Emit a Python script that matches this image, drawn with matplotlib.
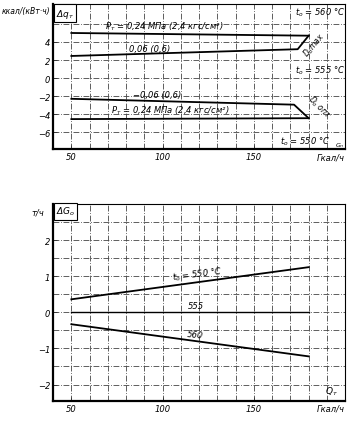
import matplotlib.pyplot as plt

# heat load, Gcal/h
q_ends = [50, 180]

# top chart: change of specific heat rate, kcal/(kW*h)
pos_hi = [5.0, 4.7]                     # P = 0.24 MPa, t0 = 560
pos_lo_q = [50, 174, 180]
pos_lo = [2.45, 3.2, 4.7]               # 0.06 (0.6)
neg_hi_q = [50, 172, 180]
neg_hi = [-2.3, -2.95, -4.45]           # -0.06 (0.6)
neg_lo = [-4.55, -4.45]                 # P = 0.24 MPa, t0 = 550

# bottom chart: change of steam flow, t/h
g_550 = [0.36, 1.25]
g_555 = [0.0, 0.0]
g_560 = [-0.33, -1.22]

x_ticks = [50, 100, 150, 200]
x_labels = ['50', '100', '150', 'Гкал/ч']

plt.rcParams['font.family'] = 'DejaVu Sans'
plt.rcParams['font.style'] = 'italic'
plt.rcParams['mathtext.fontset'] = 'dejavusans'
plt.rcParams['mathtext.default'] = 'it'

fig = plt.figure(figsize=(3.54, 4.27), dpi=100)
ax1 = fig.add_axes([0.150, 0.648, 0.825, 0.340])
ax2 = fig.add_axes([0.150, 0.059, 0.825, 0.461])

grid_kw = dict(color='#444444', lw=0.6, ls=(0, (7, 2, 1, 2)))

def style(ax, ylim, yticks, ygrid):
    ax.set_xlim(40, 200)
    ax.set_ylim(*ylim)
    ax.set_xticks(x_ticks)
    ax.set_xticklabels(x_labels, fontsize=6)
    ax.get_xticklabels()[-1].set_ha('right')
    ax.set_yticks(yticks)
    ax.set_yticklabels([str(v).replace('-', '−') for v in yticks], fontsize=6)
    ax.tick_params(length=3, width=0.7, pad=2, direction='in')
    for x in range(50, 200, 10):
        ax.axvline(x, **grid_kw)
    for y in ygrid:
        ax.axhline(y, **grid_kw)
    for s in ax.spines.values():
        s.set_linewidth(0.8)
    ax.spines['left'].set_linewidth(1.6)
    ax.spines['bottom'].set_linewidth(1.6)

style(ax1, (-7.9, 8.2), [4, 2, 0, -2, -4, -6], [6, 4, 2, 0, -2, -4, -6])
style(ax2, (-2.45, 3.0), [2, 1, 0, -1, -2],
      [2.5, 2, 1.5, 1, 0.5, 0, -0.5, -1, -1.5, -2])

# top chart lines
ax1.plot(q_ends, pos_hi, color='black', lw=1.3)
ax1.plot(pos_lo_q, pos_lo, color='black', lw=1.3)
ax1.plot(neg_hi_q, neg_hi, color='black', lw=1.3)
ax1.plot(q_ends, neg_lo, color='black', lw=1.3)

fs = 6
ax1.text(101, 5.8, '$P_т$ = 0,24 МПа (2,4 кгс/см²)', fontsize=fs, ha='center', va='center')
ax1.text(93, 3.3, '0,06 (0,6)', fontsize=fs, ha='center', va='center')
ax1.text(97, -1.8, '−0,06 (0,6)', fontsize=fs, ha='center', va='center')
ax1.text(104, -3.55, '$P_т$ = 0,24 МПа (2,4 кгс/см²)', fontsize=fs, ha='center', va='center')
ax1.text(186, 7.3, '$t_o$ = 560 °C', fontsize=fs, ha='center', va='center')
ax1.text(186, 0.9, '$t_o$ = 555 °C', fontsize=fs, ha='center', va='center')
ax1.text(191.5, -6.9, '$t_o$ = 550 °C', fontsize=fs, ha='right', va='center')
ax1.text(199.5, -7.35, '$G_п$', fontsize=4.5, ha='right', va='center')
ax1.text(183, 3.8, '$D_o$max', fontsize=5.5, ha='center', va='center', rotation=50)
ax1.text(186, -3.2, '$D_o$ опт', fontsize=5.5, ha='center', va='center', rotation=-45)
ax1.text(41.5, 7.2, 'Δ$q_т$', fontsize=6.5, ha='left', va='center',
         bbox=dict(boxstyle='square,pad=0.25', fc='white', ec='black', lw=0.8))
fig.text(0.142, 0.972, 'ккал/(кВт·ч)', fontsize=5.5, ha='right', va='center')

# bottom chart lines
ax2.plot(q_ends, g_550, color='black', lw=1.3)
ax2.plot(q_ends, g_555, color='black', lw=1.0)
ax2.plot(q_ends, g_560, color='black', lw=1.3)

ax2.text(119, 1.07, '$t_o$ = 550 °C', fontsize=fs, ha='center', va='center', rotation=7)
ax2.text(118, 0.2, '555', fontsize=fs, ha='center', va='center')
ax2.text(118, -0.62, '560', fontsize=fs, ha='center', va='center', rotation=-6)
ax2.text(196, -2.17, '$Q_т$', fontsize=6.5, ha='right', va='center')
ax2.text(41.5, 2.8, 'Δ$G_o$', fontsize=6.5, ha='left', va='center',
         bbox=dict(boxstyle='square,pad=0.25', fc='white', ec='black', lw=0.8))
fig.text(0.125, 0.500, 'т/ч', fontsize=6, ha='right', va='center')

fig.savefig('out.png', dpi=100)
